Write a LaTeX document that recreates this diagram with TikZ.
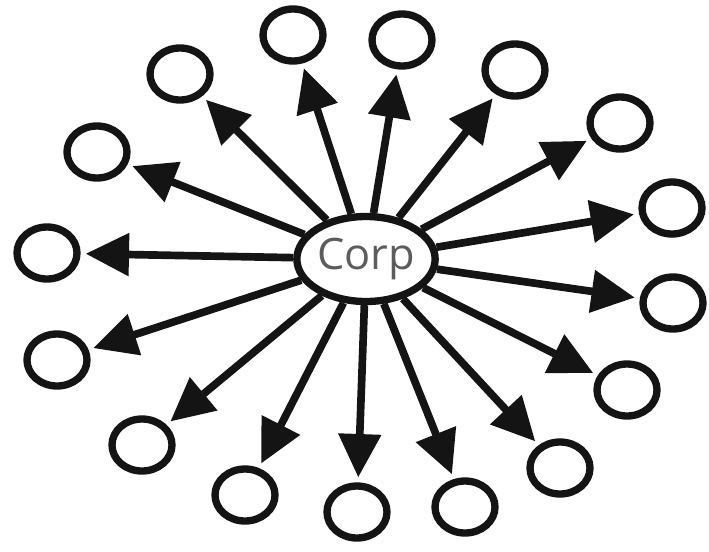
\documentclass[tikz,border=0pt]{standalone}
\usepackage{fontspec}
\setsansfont{Open Sans}
\usetikzlibrary{shapes.geometric, arrows.meta}

\begin{document}
\begin{tikzpicture}[
    x=0.03cm, y=-0.03cm,
    hub/.style={
        ellipse, draw=black!92, line width=0.22cm, fill=white,
        minimum width=3.6cm, minimum height=2.55cm, inner sep=0pt,
        font=\sffamily\fontsize{37}{40}\selectfont, text=black!64
    },
    leaf/.style={
        ellipse, draw=black!92, line width=0.22cm, fill=white,
        minimum width=1.8cm, minimum height=1.56cm, inner sep=0pt
    },
    arr/.style={-{Triangle[length=1.3cm, width=1.24cm]}, line width=0.23cm,
        draw=black!92, shorten >=0.15cm},
]
\useasboundingbox (0,0) rectangle (709,551);

\node[hub] (corp) at (366,259) {Corp};

\node[leaf] (s1)  at (293,35)  {};
\node[leaf] (s2)  at (402,40)  {};
\node[leaf] (s3)  at (515,70)  {};
\node[leaf] (s4)  at (620,123) {};
\node[leaf] (s5)  at (672,208) {};
\node[leaf] (s6)  at (673,303) {};
\node[leaf] (s7)  at (627,390) {};
\node[leaf] (s8)  at (560,468) {};
\node[leaf] (s9)  at (465,507) {};
\node[leaf] (s10) at (357,512) {};
\node[leaf] (s11) at (245,495) {};
\node[leaf] (s12) at (142,445) {};
\node[leaf] (s13) at (57,360)  {};
\node[leaf] (s14) at (47,253)  {};
\node[leaf] (s15) at (97,152)  {};
\node[leaf] (s16) at (180,74)  {};

% Arrows
\draw[arr] (corp) -- (s1);
\draw[arr] (corp) -- (s2);
\draw[arr] (corp) -- (s3);
\draw[arr] (corp) -- (s4);
\draw[arr] (corp) -- (s5);
\draw[arr] (corp) -- (s6);
\draw[arr] (corp) -- (s7);
\draw[arr] (corp) -- (s8);
\draw[arr] (corp) -- (s9);
\draw[arr] (corp) -- (s10);
\draw[arr] (corp) -- (s11);
\draw[arr] (corp) -- (s12);
\draw[arr] (corp) -- (s13);
\draw[arr] (corp) -- (s14);
\draw[arr] (corp) -- (s15);
\draw[arr] (corp) -- (s16);

\end{tikzpicture}
\end{document}
